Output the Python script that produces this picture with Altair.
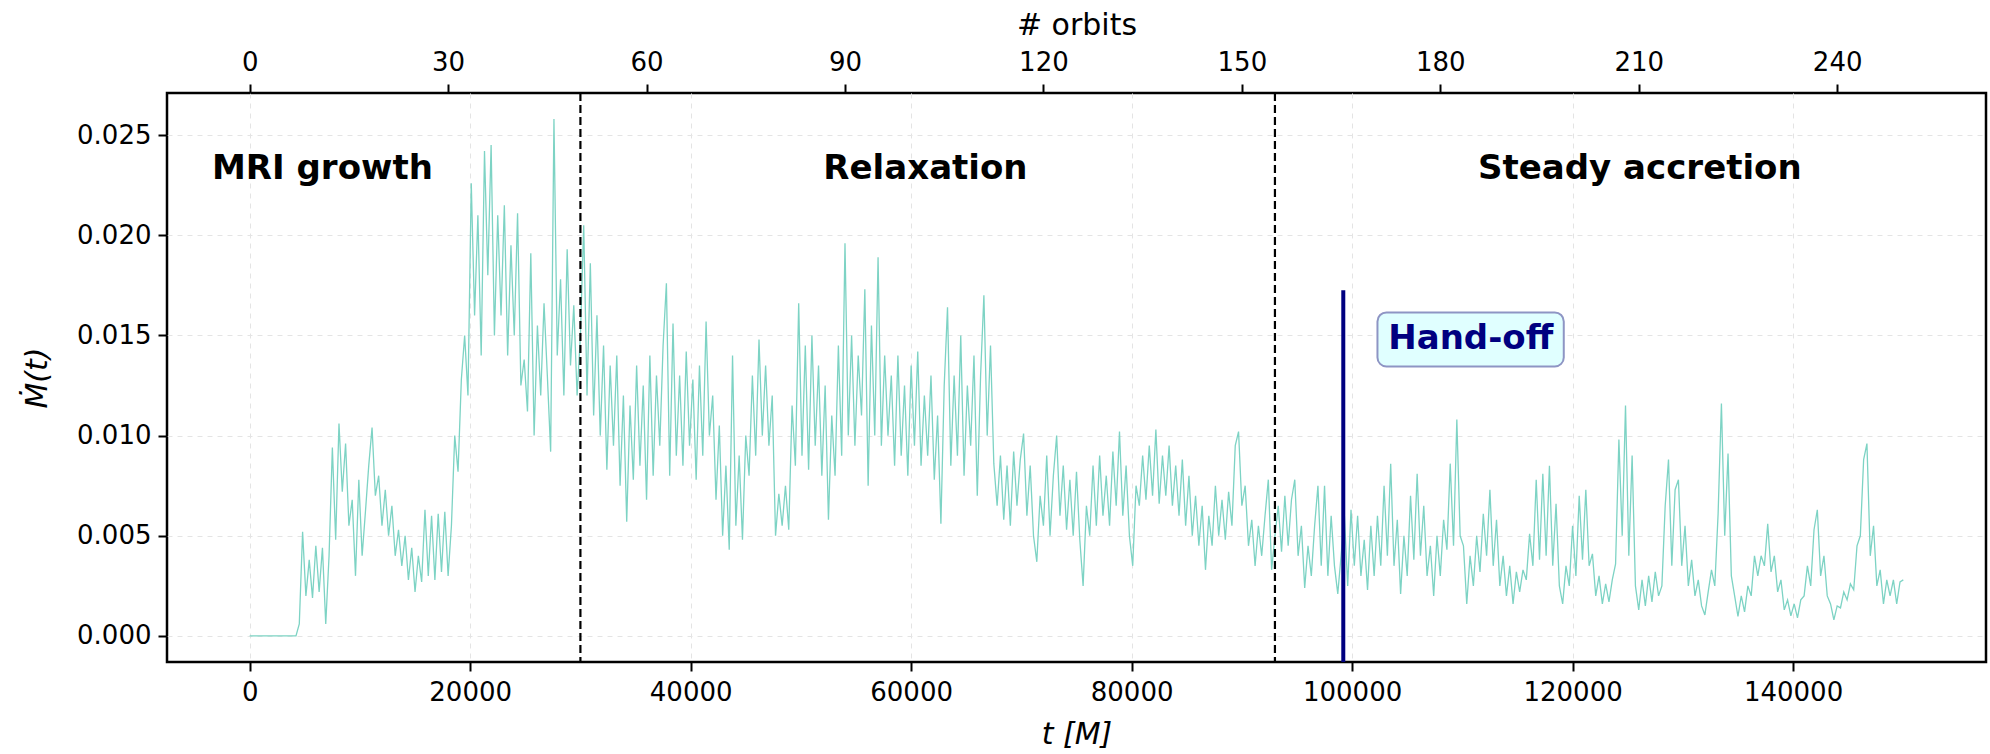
import altair as alt
import pandas as pd

# ---------------- data ----------------
T_STEP = 300
M_PER_ORBIT = 600     # time per orbit [M] (top axis)

# accretion rate in units of 1e-3
mdot_mri_e3 = [
    0, 0, 0, 0, 0, 0, 0, 0, 0, 0,
    0, 0, 0, 0, 0, 0.6, 5.2, 2.0, 3.8, 1.9,
    4.5, 2.2, 4.4, 0.6, 4.0, 9.4, 4.8, 10.6, 7.2, 9.6,
    5.5, 6.8, 3.0, 7.8, 4.0, 6.2, 8.5, 10.4, 7.0, 8.0,
    5.5, 7.3, 5.0, 6.5, 4.0, 5.3, 3.5, 5.0, 2.8, 4.4,
    2.2, 4.0, 2.7, 6.3, 3.0, 6.0, 2.8, 6.1, 3.2, 6.2,
    3.0, 5.5, 10.0, 8.2, 12.8, 15.0, 12.0, 22.6, 16.0, 21.0,
    14.0, 24.2, 18.0, 24.5, 15.0, 21.0, 16.0, 21.5, 14.0, 19.5,
    15.0, 21.1, 12.5, 13.8, 11.2, 19.1, 10.0, 15.5, 12.0, 16.6,
    13.0, 9.2, 25.8, 14.0, 17.8, 12.0, 19.3, 13.5, 16.5, 12.0,
    15.0,
]
mdot_relax_e3 = [
    20.5, 12.0, 18.6, 11.0, 16.0, 10.0, 14.5, 8.3, 13.5, 9.5,
    14.0, 7.5, 12.0, 5.7, 11.5, 7.8, 13.5, 8.5, 12.5, 6.8,
    14.0, 8.0, 13.0, 9.5, 14.5, 17.6, 8.0, 15.6, 9.0, 13.0,
    8.5, 14.2, 9.5, 12.8, 7.8, 13.5, 9.0, 15.7, 10.0, 12.0,
    6.8, 10.5, 5.0, 8.5, 4.3, 14.0, 5.5, 9.0, 4.8, 10.0,
    8.0, 13.0, 9.0, 14.8, 10.0, 13.5, 9.5, 12.0, 5.0, 7.1,
    5.5, 7.5, 5.3, 11.5, 8.5, 16.6, 9.0, 14.5, 8.3, 15.0,
    9.5, 13.5, 8.0, 12.5, 5.8, 11.0, 8.0, 14.5, 9.0, 19.6,
    10.0, 15.0, 9.5, 14.0, 11.0, 17.3, 7.5, 15.5, 10.0, 18.9,
    9.5, 14.0, 10.0, 13.0, 8.5, 14.0, 9.0, 12.5, 8.0, 13.5,
    9.5, 14.2, 8.5, 12.0, 9.0, 13.0, 7.8, 11.0, 5.6, 12.5,
    16.4, 8.5, 13.0, 9.0, 15.0, 8.0, 12.5, 9.5, 14.0, 7.0,
    13.0, 17.0, 10.0, 14.5, 8.6, 6.5, 9.0, 5.8, 8.5, 5.5,
    9.2, 6.5, 8.8, 10.1, 6.0, 8.5, 5.0, 3.7, 7.0, 5.5,
    9.0, 5.0, 8.0, 10.0, 6.0, 8.5, 5.3, 7.8, 5.0, 8.2,
    4.8, 2.5, 6.5, 5.0, 8.5, 5.5, 9.0, 6.0, 8.0, 5.5,
    9.2, 6.5, 10.2, 6.0, 8.5, 5.0, 3.5, 7.5, 6.5, 9.0,
    6.8, 9.5, 7.0, 10.3, 6.6, 9.0, 7.0, 9.5, 6.5, 8.5,
    6.0, 8.8, 5.5, 8.0, 5.0, 7.0, 4.5, 6.5, 3.3, 6.0,
    4.5, 7.5, 5.0, 6.8, 4.8, 7.2, 5.5, 9.5, 10.2, 6.5,
    7.5, 4.5, 5.8, 3.5, 5.5, 4.0, 6.0, 7.8, 3.3, 5.0,
]
mdot_steady_e3 = [
    6.5, 4.2, 7.0, 4.5, 6.8, 7.8, 4.0, 5.5, 2.4, 4.5,
    3.0, 5.5, 7.5, 3.5, 7.5, 3.0, 6.0, 3.5, 2.1, 4.0,
    6.0, 2.5, 6.3, 3.5, 6.0, 3.0, 4.8, 2.3, 5.5, 3.0,
    6.0, 3.5, 7.5, 4.0, 8.6, 3.5, 5.8, 2.1, 5.0, 3.0,
    7.0, 3.8, 8.1, 4.0, 6.5, 3.0, 4.5, 2.0, 5.0, 3.0,
    5.8, 4.3, 8.6, 4.5, 10.8, 5.0, 4.5, 1.6, 4.0, 2.5,
    5.0, 3.2, 6.1, 4.0, 7.3, 3.5, 5.8, 2.5, 4.0, 2.0,
    3.5, 1.6, 3.2, 2.2, 3.3, 2.8, 5.1, 3.5, 7.8, 3.8,
    8.1, 4.0, 8.5, 3.5, 6.6, 2.5, 1.6, 3.5, 2.5, 5.5,
    3.0, 7.0, 3.8, 7.3, 3.5, 4.1, 2.0, 3.0, 1.6, 2.6,
    1.7, 2.8, 3.6, 9.8, 5.0, 11.5, 4.0, 9.0, 2.5, 1.3,
    2.8, 1.5, 3.0, 1.7, 3.2, 2.0, 2.5, 6.5, 8.8, 3.5,
    7.3, 7.8, 3.5, 5.5, 2.5, 3.8, 2.0, 2.8, 1.5, 1.05,
    2.2, 3.3, 2.5, 6.1, 11.6, 5.0, 9.1, 3.0, 2.0, 0.97,
    2.0, 1.2, 2.5, 2.0, 4.0, 3.0, 4.0, 3.5, 5.6, 3.2,
    4.0, 2.2, 2.8, 1.3, 1.8, 1.0, 1.6, 0.9, 1.8, 2.0,
    3.5, 2.5, 5.3, 6.3, 3.0, 4.0, 2.0, 1.6, 0.8, 1.5,
    1.4, 2.2, 1.8, 2.6, 2.3, 4.5, 5.0, 8.8, 9.6, 4.0,
    5.5, 2.5, 3.3, 1.6, 2.8, 2.0, 2.8, 1.6, 2.7, 2.8,
]

phase_bounds = [30000, 93000]
phase_names = ["MRI growth", "Relaxation", "Steady accretion"]
phase_label_t = [6600, 61300, 126100]
phase_label_y = 0.0228

handoff_t = 99200
handoff_top = 0.01725
handoff_box = [102300, 119200, 0.01345, 0.01615]   # t0, t1, y0, y1
handoff_label = [110760, 0.0143]

x_ticks = [0, 20000, 40000, 60000, 80000, 100000, 120000, 140000]
y_ticks = [0.0, 0.005, 0.010, 0.015, 0.020, 0.025]
orbit_ticks = [0, 30, 60, 90, 120, 150, 180, 210, 240]

X_DOMAIN = [-7500, 157500]
Y_DOMAIN = [-0.0013, 0.0271]

# ---------------- tables ----------------
mdot_e3 = mdot_mri_e3 + mdot_relax_e3 + mdot_steady_e3
df = pd.DataFrame({
    "t": [T_STEP * i for i in range(len(mdot_e3))],
    "mdot": [v / 1000.0 for v in mdot_e3],
})
bounds_df = pd.DataFrame({"t": phase_bounds})
labels_df = pd.DataFrame({"t": phase_label_t, "y": [phase_label_y] * 3, "name": phase_names})
handoff_df = pd.DataFrame({"t": [handoff_t], "y0": [Y_DOMAIN[0]], "y1": [handoff_top]})
box_df = pd.DataFrame({"t0": [handoff_box[0]], "t1": [handoff_box[1]],
                       "y0": [handoff_box[2]], "y1": [handoff_box[3]]})
box_text_df = pd.DataFrame({"t": [handoff_label[0]], "y": [handoff_label[1]], "name": ["Hand-off"]})

# ---------------- chart ----------------
W, H = 1819, 569
FONT = "DejaVu Sans"
xs = alt.Scale(domain=X_DOMAIN, nice=False, zero=False)
ys = alt.Scale(domain=Y_DOMAIN, nice=False, zero=False)

line = alt.Chart(df).mark_line(color="#7dd3c4", strokeWidth=1.3, clip=True).encode(
    x=alt.X("t:Q", scale=xs, axis=alt.Axis(
        orient="bottom", values=x_ticks, format="d", title="t [M]", grid=True,
        titleFontStyle="italic", titleY=72, titleBaseline="middle", labelPadding=8)),
    y=alt.Y("mdot:Q", scale=ys, axis=alt.Axis(
        orient="left", values=y_ticks, format=".3f", title="Ṁ(t)", grid=True,
        titleFontStyle="italic", titleX=-130, titleY=H / 2, titleAngle=270,
        titleBaseline="middle", titleAlign="center", labelPadding=7)),
)

rules = alt.Chart(bounds_df).mark_rule(color="black", strokeWidth=2.2, strokeDash=[8, 4]).encode(
    x=alt.X("t:Q", scale=xs, axis=alt.Axis(
        orient="top", values=[o * M_PER_ORBIT for o in orbit_ticks],
        labelExpr=f"format(datum.value / {M_PER_ORBIT}, 'd')",
        title="# orbits", grid=False, titleY=-68, titleBaseline="middle", labelPadding=9)),
)

handoff = alt.Chart(handoff_df).mark_rule(color="#000080", strokeWidth=4).encode(
    x=alt.X("t:Q", scale=xs, axis=None),
    y=alt.Y("y0:Q", scale=ys, axis=None),
    y2="y1:Q",
)

box = alt.Chart(box_df).mark_rect(fill="#e0ffff", stroke="#8e95c4", strokeWidth=2,
                                  cornerRadius=9).encode(
    x=alt.X("t0:Q", scale=xs, axis=None), x2="t1:Q",
    y=alt.Y("y0:Q", scale=ys, axis=None), y2="y1:Q",
)

box_text = alt.Chart(box_text_df).mark_text(font=FONT, fontSize=34, fontWeight="bold",
                                            color="#000080", align="center",
                                            baseline="alphabetic").encode(
    x=alt.X("t:Q", scale=xs, axis=None),
    y=alt.Y("y:Q", scale=ys, axis=None),
    text="name:N",
)

phase_text = alt.Chart(labels_df).mark_text(font=FONT, fontSize=34, fontWeight="bold",
                                            color="black", align="center",
                                            baseline="alphabetic").encode(
    x=alt.X("t:Q", scale=xs, axis=None),
    y=alt.Y("y:Q", scale=ys, axis=None),
    text="name:N",
)

chart = alt.layer(line, rules, handoff, box, box_text, phase_text).resolve_axis(
    x="independent", y="independent"
).properties(
    width=W, height=H,
    autosize=alt.AutoSizeParams(type="none"),
    padding={"left": 167, "top": 93, "right": 4, "bottom": 92},
    background="white",
).configure_view(
    stroke="black", strokeWidth=2.5,
).configure_axis(
    labelFont=FONT, labelFontSize=26, labelColor="black",
    titleFont=FONT, titleFontSize=30, titleColor="black", titleFontWeight="normal",
    tickColor="black", tickWidth=2, tickSize=9, domain=False,
    gridColor="#e4e4e4", gridDash=[5, 5], gridWidth=1,
)

chart.save("out.html", embed_options={"renderer": "svg", "actions": False})
